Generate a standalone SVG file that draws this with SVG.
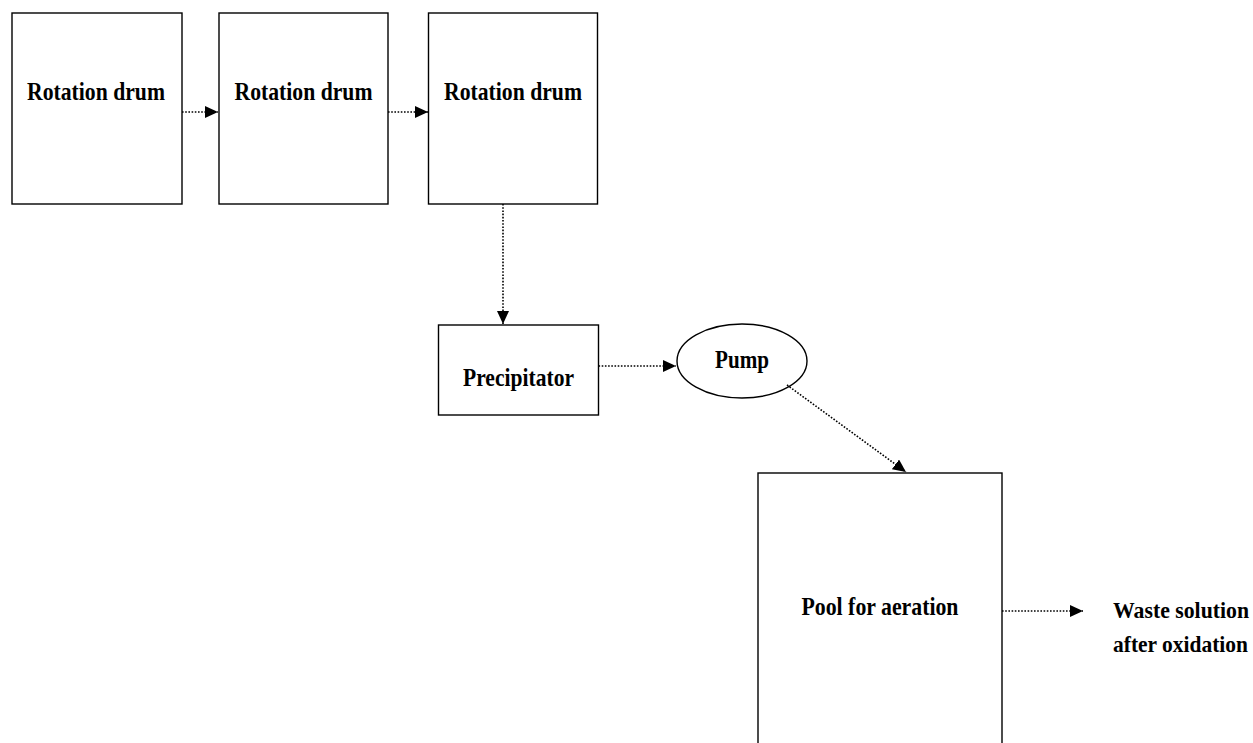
<svg xmlns="http://www.w3.org/2000/svg" width="1253" height="743" viewBox="0 0 1253 743">
  <style>
    .box { fill: #ffffff; stroke: #000000; stroke-width: 1.4; }
    .label { font-family: "Liberation Serif", "Times New Roman", serif; font-weight: bold; font-size: 25px; fill: #000000; }
    .edge-label { font-size: 22.5px; }
    .flow { fill: none; stroke: #000000; stroke-width: 1.6; stroke-dasharray: 1.6 1.6; marker-end: url(#arrow); }
  </style>
  <defs>
    <marker id="arrow" markerUnits="userSpaceOnUse" markerWidth="14" markerHeight="13" refX="13" refY="6" orient="auto">
      <path d="M0,0 L13,6 L0,12 z" fill="#000000"/>
    </marker>
  </defs>
  <rect x="0" y="0" width="1253" height="743" fill="#ffffff"/>

  <g id="drum1">
    <rect class="box" x="12" y="13" width="170" height="191"/>
    <text class="label" x="96" y="100" text-anchor="middle" textLength="138" lengthAdjust="spacingAndGlyphs">Rotation drum</text>
  </g>
  <g id="drum2">
    <rect class="box" x="219" y="13" width="169" height="191"/>
    <text class="label" x="303.5" y="100" text-anchor="middle" textLength="138" lengthAdjust="spacingAndGlyphs">Rotation drum</text>
  </g>
  <g id="drum3">
    <rect class="box" x="428.5" y="13" width="169" height="191"/>
    <text class="label" x="513" y="100" text-anchor="middle" textLength="138" lengthAdjust="spacingAndGlyphs">Rotation drum</text>
  </g>
  <g id="precipitator">
    <rect class="box" x="438.5" y="325" width="160" height="90"/>
    <text class="label" x="518.5" y="386" text-anchor="middle" textLength="111" lengthAdjust="spacingAndGlyphs">Precipitator</text>
  </g>
  <g id="pump">
    <ellipse class="box" cx="742" cy="361" rx="65" ry="37"/>
    <text class="label" x="742" y="368" text-anchor="middle" textLength="54" lengthAdjust="spacingAndGlyphs">Pump</text>
  </g>
  <g id="aeration-pool">
    <rect class="box" x="758" y="473" width="244" height="290"/>
    <text class="label" x="880" y="615" text-anchor="middle" textLength="157" lengthAdjust="spacingAndGlyphs">Pool for aeration</text>
  </g>
  <g id="output">
    <text class="label edge-label" x="1113" y="618" textLength="136" lengthAdjust="spacingAndGlyphs">Waste solution</text>
    <text class="label edge-label" x="1113" y="652" textLength="135" lengthAdjust="spacingAndGlyphs">after oxidation</text>
  </g>

  <g id="connectors">
    <line class="flow" x1="182" y1="112" x2="218" y2="112"/>
    <line class="flow" x1="388" y1="112" x2="428" y2="112"/>
    <line class="flow" x1="503" y1="204" x2="503" y2="324"/>
    <line class="flow" x1="598.5" y1="366" x2="676" y2="366"/>
    <line class="flow" x1="787" y1="385" x2="906" y2="472"/>
    <line class="flow" x1="1002" y1="611" x2="1083" y2="611"/>
  </g>
</svg>
